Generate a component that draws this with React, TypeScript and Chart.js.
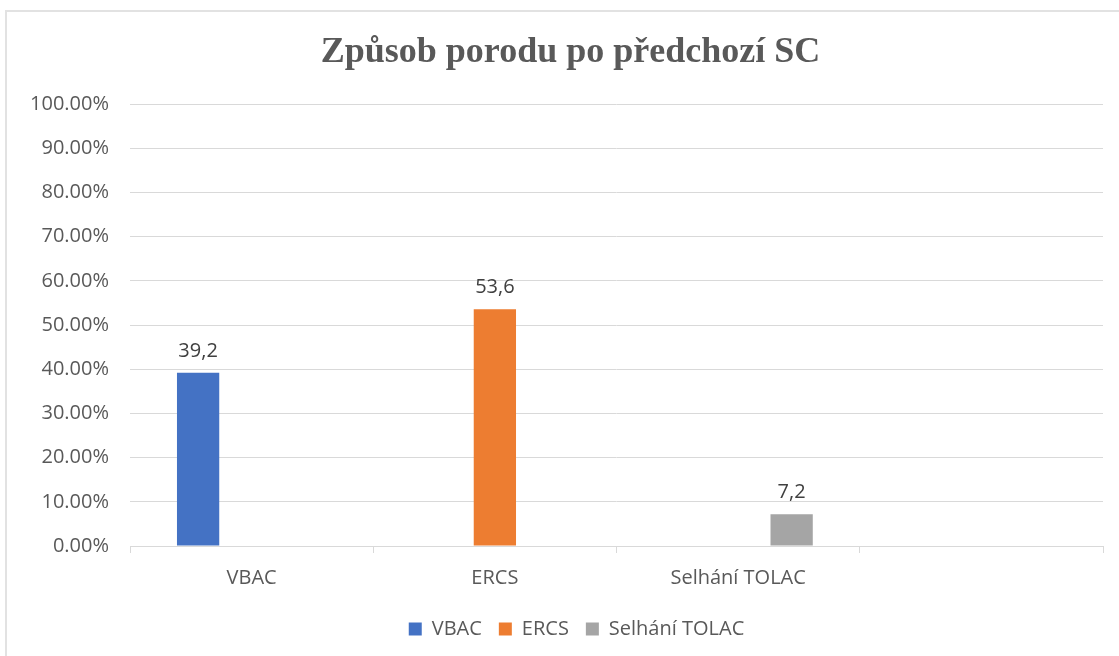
import React, { useEffect, useRef } from "react";
import { Chart, registerables } from "chart.js";

Chart.register(...registerables);

const TITLE = "Způsob porodu po předchozí SC";
const CATEGORIES = ["VBAC", "ERCS", "Selhání TOLAC", ""];
const SERIES_NAMES = ["VBAC", "ERCS", "Selhání TOLAC"];
const VBAC_VALUES = [39.2, null, null, null];
const ERCS_VALUES = [null, 53.6, null, null];
const TOLAC_VALUES = [null, null, 7.2, null];
const SERIES_COLORS = ["#4472C4", "#ED7D31", "#A5A5A5"];
const Y_MIN = 0;
const Y_MAX = 100;
const Y_STEP = 10;

const FONT = "'Open Sans', 'Noto Sans', sans-serif";
const TEXT_COLOR = "#595959";
const GRID_COLOR = "#D9D9D9";

const dataLabelPlugin = {
  id: "dataLabels",
  afterDatasetsDraw(chart: any) {
    const ctx = chart.ctx;
    ctx.save();
    ctx.font = `20px ${FONT}`;
    ctx.fillStyle = "#404040";
    ctx.textAlign = "center";
    ctx.textBaseline = "alphabetic";
    chart.data.datasets.forEach((ds: any, i: number) => {
      const meta = chart.getDatasetMeta(i);
      meta.data.forEach((el: any, j: number) => {
        const v = ds.data[j];
        if (v === null || v === undefined) return;
        const txt = String(v).replace(".", ",");
        ctx.fillText(txt, el.x, el.y - 16);
      });
    });
    ctx.restore();
  },
};

// Centre title and legend on the whole (wider) chart frame, as in the original
const centerShiftPlugin = {
  id: "centerShift",
  afterLayout(chart: any) {
    const t = chart.titleBlock;
    if (t) {
      t.left += 9;
      t.right += 9;
    }
    const l = chart.legend;
    if (l) {
      l.left += 15;
      l.right += 15;
    }
  },
};

export default function App() {
  const canvasRef = useRef<HTMLCanvasElement | null>(null);

  useEffect(() => {
    if (!canvasRef.current) return;
    const valueLists = [VBAC_VALUES, ERCS_VALUES, TOLAC_VALUES];
    const chart = new Chart(canvasRef.current, {
      type: "bar",
      data: {
        labels: CATEGORIES,
        datasets: SERIES_NAMES.map((name, i) => ({
          label: name,
          data: valueLists[i],
          backgroundColor: SERIES_COLORS[i],
          borderWidth: 0,
          categoryPercentage: 0.66,
          barPercentage: 0.79,
        })),
      },
      options: {
        responsive: false,
        animation: false,
        devicePixelRatio: 1,
        layout: { padding: { left: 20, right: 16, top: 10, bottom: 7 } },
        plugins: {
          tooltip: { enabled: false },
          title: {
            display: true,
            text: TITLE,
            color: TEXT_COLOR,
            font: { family: "'Liberation Serif', 'Times New Roman', serif", size: 36, weight: "bold" },
            padding: { top: 21, bottom: 30 },
          },
          legend: {
            position: "bottom",
            labels: {
              boxWidth: 13,
              boxHeight: 13,
              padding: 17,
              color: TEXT_COLOR,
              font: { family: FONT, size: 20 },
            },
          },
        },
        scales: {
          x: {
            grid: {
              display: true,
              offset: true,
              drawOnChartArea: false,
              drawTicks: true,
              tickLength: 7,
              color: GRID_COLOR,
            },
            border: { display: true, color: GRID_COLOR, width: 1 },
            ticks: {
              color: TEXT_COLOR,
              font: { family: FONT, size: 20 },
              padding: 13,
              maxRotation: 0,
            },
            afterFit(scale: any) {
              scale.height = 56;
            },
          },
          y: {
            min: Y_MIN,
            max: Y_MAX,
            grid: { color: GRID_COLOR, drawTicks: false },
            border: { display: false },
            ticks: {
              stepSize: Y_STEP,
              color: TEXT_COLOR,
              font: { family: FONT, size: 20 },
              padding: 21,
              callback: (v: any) => Number(v).toFixed(2) + "%",
            },
            afterFit(scale: any) {
              scale.width = 110;
            },
          },
        },
      },
      plugins: [dataLabelPlugin, centerShiftPlugin],
    });
    return () => chart.destroy();
  }, []);

  return (
    <div
      style={{
        position: "fixed",
        left: 0,
        top: 0,
        width: 1119,
        height: 656,
        overflow: "hidden",
        background: "#fff",
      }}
    >
      <div
        style={{
          position: "absolute",
          left: 5,
          top: 10,
          width: 1140,
          height: 700,
          border: "2px solid #E2E2E2",
          boxSizing: "border-box",
        }}
      />
      <canvas
        ref={canvasRef}
        width={1119}
        height={656}
        style={{ position: "absolute", left: 0, top: 0, width: 1119, height: 656 }}
      />
    </div>
  );
}
